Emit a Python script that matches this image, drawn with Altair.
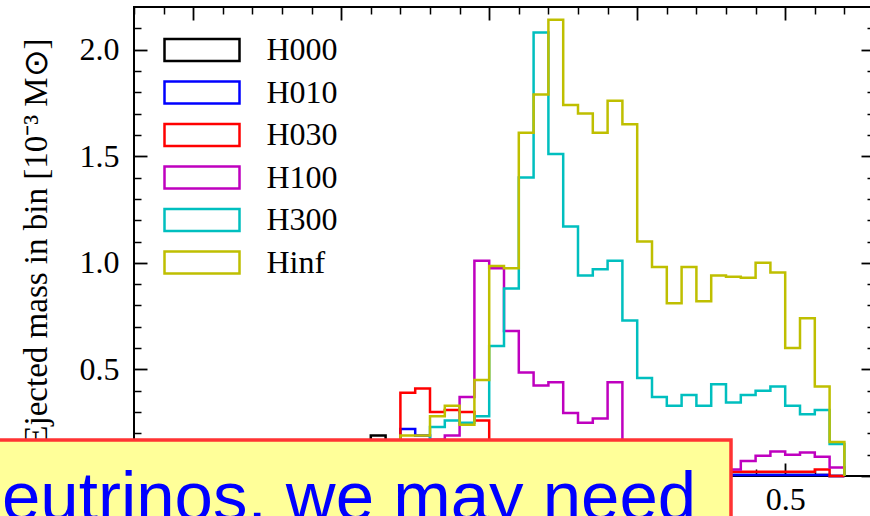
import altair as alt
import pandas as pd

# Histogram bins (electron-fraction edges) and ejected mass per bin [1e-3 Msun]
EDGES = [0.16, 0.17, 0.18, 0.19, 0.20, 0.21, 0.22, 0.23, 0.24, 0.25,
         0.26, 0.27, 0.28, 0.29, 0.30, 0.31, 0.32, 0.33, 0.34, 0.35,
         0.36, 0.37, 0.38, 0.39, 0.40, 0.41, 0.42, 0.43, 0.44, 0.45,
         0.46, 0.47, 0.48, 0.49, 0.50, 0.51, 0.52, 0.53, 0.54]

SERIES = ["H000", "H010", "H030", "H100", "H300", "Hinf"]
COLORS = ["#000000", "#0000ff", "#ff0000", "#bf00bf", "#00bfbf", "#bfbf00"]

H000 = [0.02, 0.04, 0.07, 0.10, 0.12, 0.15, 0.19, 0.16, 0.14, 0.16,
        0.13, 0.12, 0.10, 0.09, 0.08, 0.07, 0.06, 0.05, 0.05, 0.04,
        0.04, 0.03, 0.03, 0.02, 0.02, 0.02, 0.01, 0.01, 0.01, 0.01,
        0.005, 0.005, 0.005, 0.005, 0.005, 0.005, 0.005, 0.0]
H010 = [0.01, 0.03, 0.05, 0.08, 0.10, 0.12, 0.15, 0.14, 0.22, 0.19,
        0.15, 0.16, 0.13, 0.11, 0.09, 0.08, 0.07, 0.06, 0.05, 0.05,
        0.04, 0.04, 0.03, 0.03, 0.02, 0.02, 0.02, 0.01, 0.01, 0.01,
        0.005, 0.005, 0.005, 0.005, 0.005, 0.005, 0.005, 0.0]
H030 = [0.03, 0.05, 0.07, 0.09, 0.11, 0.13, 0.15, 0.16, 0.39, 0.41,
        0.30, 0.31, 0.30, 0.26, 0.16, 0.13, 0.11, 0.09, 0.08, 0.07,
        0.06, 0.05, 0.05, 0.04, 0.04, 0.03, 0.03, 0.03, 0.02, 0.02,
        0.02, 0.02, 0.02, 0.02, 0.02, 0.02, 0.03, 0.0]
H100 = [0.01, 0.02, 0.03, 0.04, 0.06, 0.08, 0.10, 0.12, 0.14, 0.15,
        0.17, 0.19, 0.37, 1.01, 0.975, 0.68, 0.485, 0.425, 0.44, 0.295,
        0.25, 0.27, 0.44, 0.14, 0.10, 0.08, 0.06, 0.05, 0.04, 0.04,
        0.03, 0.07, 0.095, 0.115, 0.10, 0.11, 0.09, 0.04]
H300 = [0.01, 0.02, 0.03, 0.04, 0.05, 0.07, 0.09, 0.11, 0.13, 0.15,
        0.23, 0.26, 0.25, 0.28, 0.61, 0.88, 1.40, 2.08, 1.51, 1.17,
        0.94, 0.97, 1.01, 0.73, 0.46, 0.37, 0.33, 0.38, 0.33, 0.43,
        0.345, 0.38, 0.40, 0.42, 0.33, 0.29, 0.31, 0.15]
HINF = [0.02, 0.03, 0.05, 0.07, 0.09, 0.11, 0.13, 0.16, 0.19, 0.19,
        0.28, 0.33, 0.24, 0.45, 0.985, 0.975, 1.61, 1.79, 2.14, 1.74,
        1.70, 1.61, 1.76, 1.65, 1.10, 0.98, 0.81, 0.98, 0.82, 0.94,
        0.935, 0.93, 1.00, 0.955, 0.60, 0.74, 0.42, 0.16]

X_MAJOR = [0.1, 0.2, 0.3, 0.4, 0.5]
X_MINOR = [0.06, 0.08, 0.12, 0.14, 0.16, 0.18, 0.22, 0.24, 0.26, 0.28,
           0.32, 0.34, 0.36, 0.38, 0.42, 0.44, 0.46, 0.48, 0.52, 0.54, 0.56]
Y_MAJOR = [0.0, 0.5, 1.0, 1.5, 2.0]
Y_MINOR = [0.1, 0.2, 0.3, 0.4, 0.6, 0.7, 0.8, 0.9, 1.1, 1.2, 1.3, 1.4,
           1.6, 1.7, 1.8, 1.9, 2.1]

Y_TITLE = "Ejected mass in bin [10\u207b\u00b3 M\u2299]"
NOTE = "eutrinos, we may need"

# Step outline of each histogram: rise at the first edge, drop at the last
rows = []
for name, vals in zip(SERIES, [H000, H010, H030, H100, H300, HINF]):
    pts = [(EDGES[0], 0.0)] + [(EDGES[i], v) for i, v in enumerate(vals)] + [(EDGES[-1], 0.0)]
    for k, (x, y) in enumerate(pts):
        rows.append({"series": name, "ye": x, "mass": y, "k": k})
df = pd.DataFrame(rows)
note_df = pd.DataFrame({"note": [NOTE]})

SERIF = "Liberation Serif"
XS = alt.Scale(domain=[0.06, 0.56], nice=False, zero=False)
YS = alt.Scale(domain=[0.0, 2.2], nice=False, zero=False)


def ticks_axis(orient, values, size, width, **kw):
    # inward-pointing ticks: push the axis inside the frame by the tick length
    opts = dict(orient=orient, values=values, tickSize=size, offset=-size,
                domain=False, grid=False, tickColor="black", tickWidth=width,
                labels=False, title=None)
    opts.update(kw)
    return alt.Axis(**opts)


label_kw = dict(labels=True, format=".1f", labelFont=SERIF, labelFontSize=32,
                labelColor="black", labelFlush=False, labelOverlap=False)

x_main = ticks_axis("bottom", X_MAJOR, 13, 1.8, labelPadding=8.5, **label_kw)
y_main = ticks_axis("left", Y_MAJOR, 13, 1.8, labelPadding=15, **label_kw,
                    title=Y_TITLE, titleFont=SERIF, titleFontSize=33,
                    titleFontWeight="normal", titleColor="black", titlePadding=26)

# Wide, flat outline boxes as legend swatches (path spans +-2.5 x +-0.733,
# scaled by sqrt(size)/2 = 15 px -> 75 x 22 px) while keeping rows compact.
legend = alt.Legend(
    title=None, orient="none", legendX=29, legendY=26.5, padding=0,
    symbolType="M-2.5,-0.733H2.5V0.733H-2.5Z", symbolSize=900,
    symbolOffset=22.5, symbolStrokeWidth=2.5, labelFont=SERIF, labelFontSize=32,
    labelColor="black", labelOffset=48, rowPadding=9.5,
)

hist = alt.Chart(df).mark_line(interpolate="step-after", strokeWidth=2.5).encode(
    x=alt.X("ye:Q", scale=XS, axis=x_main),
    y=alt.Y("mass:Q", scale=YS, axis=y_main),
    color=alt.Color("series:N", scale=alt.Scale(domain=SERIES, range=COLORS), legend=legend),
    order="k:Q",
)


def tick_layer(x_axis, y_axis):
    return alt.Chart(df).mark_point(opacity=0).encode(
        x=alt.X("ye:Q", scale=XS, axis=x_axis),
        y=alt.Y("mass:Q", scale=YS, axis=y_axis),
    )


minor_lb = tick_layer(ticks_axis("bottom", X_MINOR, 7, 1.5), ticks_axis("left", Y_MINOR, 7, 1.5))
major_tr = tick_layer(ticks_axis("top", X_MAJOR, 13, 1.8), ticks_axis("right", Y_MAJOR, 13, 1.8))
minor_tr = tick_layer(ticks_axis("top", X_MINOR, 7, 1.5), ticks_axis("right", Y_MINOR, 7, 1.5))

box = alt.Chart(note_df).mark_rect(fill="#ffff99", stroke="#ff3333", strokeWidth=3.5).encode(
    x=alt.value(-140), x2=alt.value(597), y=alt.value(433), y2=alt.value(530)
)
note = alt.Chart(note_df).mark_text(
    align="left", baseline="alphabetic", font="Liberation Sans", fontSize=69, color="#0000ff"
).encode(x=alt.value(-132), y=alt.value(513), text="note:N")

chart = (
    alt.layer(hist, minor_lb, major_tr, minor_tr, box, note)
    .resolve_axis(x="independent", y="independent")
    .properties(
        width=740, height=469,
        padding={"left": 134, "top": 7, "right": -4, "bottom": 40},
        autosize=alt.AutoSizeParams(type="none"),
    )
    .configure(background="white")
    .configure_view(stroke="black", strokeWidth=2)
)

chart.save("out.html", embed_options={"renderer": "svg", "actions": False})
